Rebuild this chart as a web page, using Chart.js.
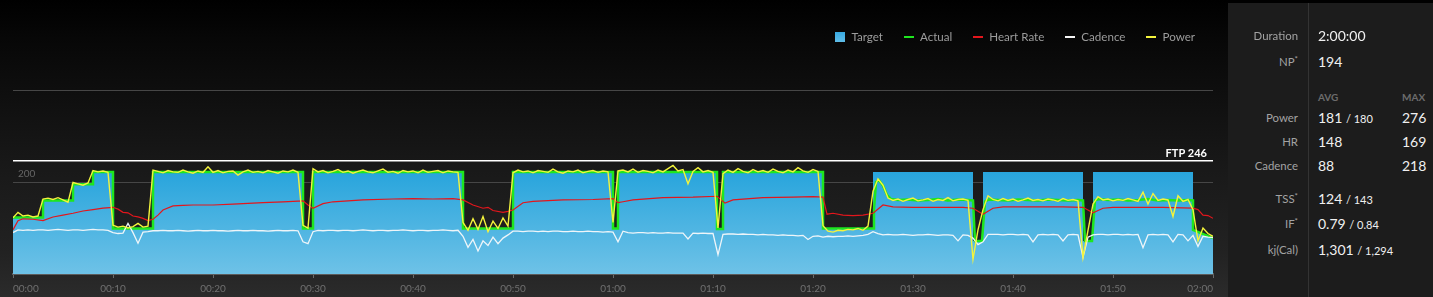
<!DOCTYPE html>
<html>
<head>
<meta charset="utf-8">
<script src="https://cdn.jsdelivr.net/npm/chart.js@4.4.1/dist/chart.umd.min.js"></script>
<style>
  html, body { margin: 0; padding: 0; }
  body {
    width: 1433px; height: 297px; overflow: hidden; position: relative;
    background: #000; font-family: Lato, "Open Sans", sans-serif;
  }
  #left {
    position: absolute; left: 0; top: 0; width: 1228px; height: 297px;
    background: linear-gradient(#000 0%, #080808 15%, #121212 40%, #1a1a1a 60%, #222 85%, #2b2b2b 100%);
  }
  #chart { position: absolute; left: 0; top: 0; }
  #legend {
    position: absolute; right: 238px; top: 30px; height: 14px;
    display: flex; align-items: center; font-size: 11.6px; color: #9c9c9c;
  }
  #legend .item { display: flex; align-items: center; margin-left: 21px; line-height: 14px; }
  #legend .sq { width: 10px; height: 10px; margin-right: 6px; background: linear-gradient(#37a9e0, #5fbde8); }
  #legend .ln { width: 10px; height: 2px; margin-right: 6px; }
  #panel {
    position: absolute; left: 1228px; top: 3px; width: 205px; height: 294px;
    background: #1c1c1c;
  }
  #panel .sep { position: absolute; left: 80px; top: 0; bottom: 0; width: 1px; background: #333; }
  #panel .row { position: absolute; left: 0; width: 205px; height: 16px; line-height: 16px; white-space: nowrap; }
  #panel .lab { position: absolute; right: 135px; font-size: 11.4px; color: #a3a3a3; }
  #panel .val { position: absolute; left: 90px; font-size: 14px; color: #f0f0f0; }
  #panel .max { position: absolute; left: 174px; font-size: 14px; color: #f0f0f0; }
  #panel .hdr { font-size: 10px; font-weight: bold; color: #6c6c6c; }
  #panel .small { font-size: 11px; }
  #panel sup { font-size: 8px; vertical-align: top; line-height: 10px; }
</style>
</head>
<body>
<div id="left"></div>
<canvas id="chart" width="1228" height="297"></canvas>

<div id="legend">
  <span class="item"><i class="sq"></i>Target</span>
  <span class="item"><i class="ln" style="background:#1ee61e"></i>Actual</span>
  <span class="item"><i class="ln" style="background:#e3161c"></i>Heart Rate</span>
  <span class="item"><i class="ln" style="background:#f4f4f4"></i>Cadence</span>
  <span class="item"><i class="ln" style="background:#f4f43c"></i>Power</span>
</div>

<div id="panel">
  <div class="sep"></div>
  <div class="row" style="top:25px"><span class="lab">Duration</span><span class="val">2:00:00</span></div>
  <div class="row" style="top:51px"><span class="lab">NP<sup>*</sup></span><span class="val">194</span></div>
  <div class="row" style="top:86px"><span class="val hdr">AVG</span><span class="max hdr">MAX</span></div>
  <div class="row" style="top:107px"><span class="lab">Power</span><span class="val">181 <span class="small">/ 180</span></span><span class="max">276</span></div>
  <div class="row" style="top:131px"><span class="lab">HR</span><span class="val">148</span><span class="max">169</span></div>
  <div class="row" style="top:155px"><span class="lab">Cadence</span><span class="val">88</span><span class="max">218</span></div>
  <div class="row" style="top:188px"><span class="lab">TSS<sup>*</sup></span><span class="val">124 <span class="small">/ 143</span></span></div>
  <div class="row" style="top:213px"><span class="lab">IF<sup>*</sup></span><span class="val">0.79 <span class="small">/ 0.84</span></span></div>
  <div class="row" style="top:239px"><span class="lab">kj(Cal)</span><span class="val">1,301 <span class="small">/ 1,294</span></span></div>
</div>

<script>
// minutes on x, watts on y (hr and cadence share the same scale)
var ftp = 246;
var sampleStep = 0.5; // power and cadence every 30 s

var targetMin = [0,3,3,6,6,8,8,10,10,14,14,29,29,30,30,45,45,50,50,60,60,60.5,60.5,70.4,70.4,71,71,81,81,86,
  86,96,96,97,97,107,107,108,108,118,118,120];
var targetW = [123,123,160,160,195,195,222,222,99,99,222,222,99,99,222,222,99,99,222,222,99,99,222,222,98,98,222,222,99,99,
  222,222,72,72,222,222,72,72,222,222,96,78];

var actualMin = [0,3,3,6,6,8,8,10,10,14,14,29,29,30,30,45,45,50,50,60,60,60.5,60.5,70.4,70.4,71,71,81,81,86,
  86.1,86.3,86.6,87,87.4,87.8,88.5,89.5,90.5,91.5,92.5,93.5,94.5,95.5,96,
  96.2,96.9,97.2,97.6,98.5,99.5,100.5,101.5,102.5,103.5,104.5,105.5,106.5,107,
  107.2,107.9,108.2,108.6,109.5,110.5,111.5,112.5,113.5,114.5,115.5,116.5,117.5,118,
  118,120];
var actualW = [123,123,160,160,195,195,222,222,99,99,222,222,99,99,222,222,99,99,222,222,99,99,222,222,98,98,222,222,99,99,
  140,200,204,192,172,163,161,162,160,161,163,160,162,161,160,
  72,72,158,162,161,160,162,161,160,162,161,160,161,160,
  72,72,160,163,161,162,160,161,163,160,161,160,161,160,
  96,78];

var hrMin = [0,0.5,1,2,3,4,5,6,7,8, 9,10,10.5,11,11.5,12,12.5,13,13.5,14,
  14.5,15,16,17,18,20,22,25,27,29, 29.5,30,31,32,35,38,40,42,44,45,
  46,47,47.5,48,49,49.5,50,51,52,55, 58,60,60.5,61,62,65,68,70.4,71.2,72,
  75,78,80,81,81.4,82,83,84,85,86, 87,88,90,95,96,97,98,99,100,105,
  107,108,109,110,115,118,118.5,119,119.5,120];
var hrBpm = [96,116,120,119,116,124,128,132,137,140, 143,145,141,134,133,126,124,121,116,119,
  128,139,148,149,150,150,152,155,157,159, 150,143,153,157,161,163,164,163,164,161,
  150,143,145,138,134,136,139,155,158,161, 162,164,155,157,161,166,167,169,154,161,
  166,167,168,167,130,132,128,127,128,132, 150,146,145,145,143,130,143,146,146,146,
  145,133,143,145,145,143,140,128,127,121];

var powerW = [
  122,134,126,128,124,126, 163,165,162,166,161,156, 199,196,193,198, 225,222,224,221,
  106,102,104,100,103,110,102,104, 226,
  223,220,225,222,221,226,222,219,224,221, 233,221,225,220,223,224,215,222,226,221,
  223,220,225,222,219,224,222,226,221,
  106,100,229,
  222,225,220,223,227,221,224,219,223,226, 222,220,224,228,221,223,219,225,222,224,
  220,226,221,223,225,220,224,222,221,
  112,95,120,97,125,92,115,99,122,104,
  220,
  226,222,224,220,225,223,221,228,222,219, 224,222,226,220,223,225,221,224,222,
  112,224,
  226,222,228,221,225,223,220,226,222,229, 236,224,227,196,223,231,222,225,221,
  100,218,
  226,221,229,223,220,227,222,225,221,228, 223,220,226,222,231,224,221,227,223,
  105,
  93,91,95,94,97,96,99,95,104,
  180,207,193,165,
  160,163,158,162,165,159,161,164,158,162,160,166,159,162,163,160,
  32,96,140,170,
  162,159,164,160,163,158,161,165,160,162,159,163,161,158,164,160,162,159,
  36,95,152,168,
  161,163,159,162,160,164,161,158,178,152,175,160,163,161,125,170,158,162,
  140,72,100,88,82];

var cadenceRpm = [
  90,96,
  95,96,95,96,96,95,96,97,96,95,96,96,95,96,97,96,96,95,
  90,88,89,110,90,67,91,92,
  94,
  94,95,94,94,95,94,93,94,95,94,94,95,94,94,93,94,95,94,94,95,94,94,93,94,95,94,94,95,94,
  70,66,92,
  95,94,95,95,94,95,95,94,95,96,95,94,95,95,94,95,95,96,95,94,95,95,94,95,95,96,95,94,95,
  82,58,75,50,72,62,80,66,78,85,
  93,
  93,92,93,93,92,93,92,93,93,92,92,93,92,92,93,92,92,91,92,
  91,70,93,
  90,89,90,90,89,90,89,89,90,89,89,89,76,89,88,89,88,88,
  42,86,
  87,87,86,87,86,86,85,86,85,85,84,85,84,84,83,84,75,82,83,
  80,
  82,81,82,82,83,82,83,84,86,
  92,88,
  85,86,85,85,86,85,84,85,85,86,85,84,85,85,84,72,85,84,
  78,64,70,86,
  86,86,85,86,86,85,86,85,70,85,86,85,86,85,72,85,86,85,
  36,80,85,86,
  86,85,86,86,85,86,85,86,57,85,86,85,86,85,70,86,85,72,
  84,60,82,80,79];

function pairs(xs, ys) {
  return xs.map(function(x, i) { return { x: x, y: ys[i] }; });
}
function sampled(ys) {
  return ys.map(function(y, i) { return { x: i * sampleStep, y: y }; });
}
function pad2(n) { return (n < 10 ? '0' : '') + n; }

var ftpLabel = {
  id: 'ftpLabel',
  afterDatasetsDraw: function(chart) {
    var ctx = chart.ctx;
    var y = chart.scales.y.getPixelForValue(ftp);
    ctx.save();
    ctx.font = 'bold 11px Lato';
    ctx.fillStyle = '#ffffff';
    ctx.textAlign = 'right';
    ctx.fillText('FTP ' + ftp, chart.chartArea.right - 6, y - 4);
    ctx.restore();
  }
};

var ctx = document.getElementById('chart').getContext('2d');
var chart = new Chart(ctx, {
  type: 'line',
  data: {
    datasets: [{
      label: 'Power',
      data: sampled(powerW),
      borderColor: '#f4f43c',
      borderWidth: 1.4,
      order: 0
    }, {
      label: 'Heart Rate',
      data: pairs(hrMin, hrBpm),
      borderColor: '#e3161c',
      borderWidth: 1.2,
      order: 1
    }, {
      label: 'Cadence',
      data: sampled(cadenceRpm),
      borderColor: '#eef5f9',
      borderWidth: 1.3,
      order: 2
    }, {
      label: 'Actual',
      data: pairs(actualMin, actualW),
      borderColor: '#1ee61e',
      borderWidth: 2.5,
      order: 3
    }, {
      label: 'FTP',
      data: [{ x: 0, y: ftp }, { x: 120, y: ftp }],
      borderColor: '#ffffff',
      borderWidth: 1.5,
      order: 4
    }, {
      label: 'Target',
      data: pairs(targetMin, targetW),
      borderColor: 'transparent',
      borderWidth: 0,
      fill: 'origin',
      backgroundColor: function(c) {
        var ch = c.chart;
        if (!ch.chartArea) return '#3ab0e2';
        var g = ch.ctx.createLinearGradient(0, ch.scales.y.getPixelForValue(225), 0, ch.chartArea.bottom);
        g.addColorStop(0, '#27a4dc');
        g.addColorStop(1, '#6ec2e7');
        return g;
      },
      order: 5
    }]
  },
  options: {
    responsive: false,
    animation: false,
    events: [],
    layout: { padding: { left: 3, right: 15, top: 90, bottom: -3 } },
    elements: {
      point: { radius: 0 },
      line: { tension: 0 }
    },
    plugins: {
      legend: { display: false },
      tooltip: { enabled: false }
    },
    scales: {
      x: {
        type: 'linear',
        min: 0,
        max: 120,
        grid: { drawOnChartArea: false, drawTicks: true, tickLength: 4, color: '#6a6a6a' },
        border: { color: '#5c5c5c', width: 2 },
        ticks: {
          stepSize: 10,
          align: 'inner',
          padding: 5,
          color: '#707070',
          font: { family: 'Lato', size: 10 },
          maxRotation: 0,
          callback: function(v) { return pad2(Math.floor(v / 60)) + ':' + pad2(v % 60); }
        }
      },
      y: {
        min: 0,
        max: 400,
        grid: {
          drawTicks: false,
          color: function(c) { return c.tick && c.tick.value === 0 ? 'transparent' : '#464646'; }
        },
        border: { display: false },
        ticks: {
          stepSize: 200,
          mirror: true,
          padding: 5,
          labelOffset: -8,
          color: '#666',
          font: { family: 'Lato', size: 10 },
          callback: function(v) { return v === 200 ? '200' : ''; }
        }
      }
    }
  },
  plugins: [ftpLabel]
});
</script>
</body>
</html>
